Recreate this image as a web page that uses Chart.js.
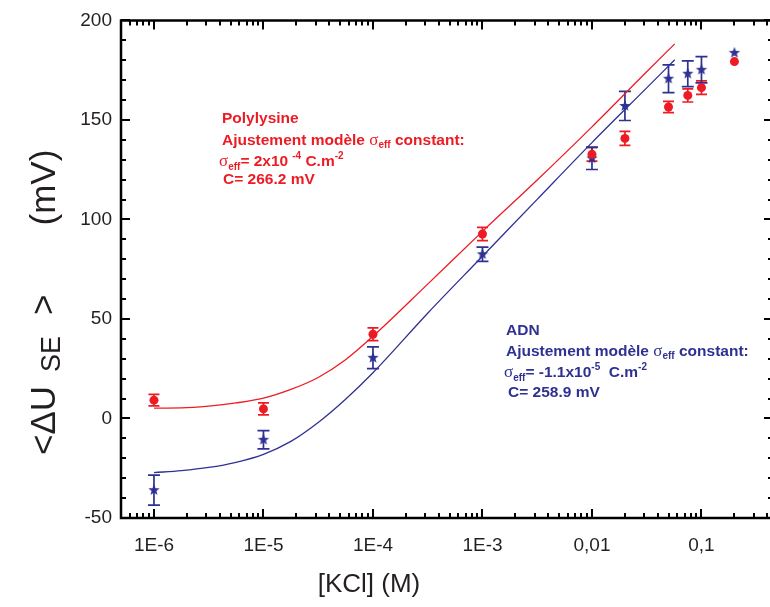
<!DOCTYPE html>
<html><head><meta charset="utf-8">
<script src="https://cdn.jsdelivr.net/npm/chart.js@4/dist/chart.umd.min.js"></script>
<style>html,body{margin:0;padding:0;overflow:hidden;background:#fff;width:770px;height:607px}canvas{display:block}</style>
</head><body>
<canvas id="c" width="780" height="607"></canvas>
<script>
// ---------- data ----------
const concentrations = [1e-6, 1e-5, 1e-4, 1e-3, 0.01, 0.02, 0.05, 0.075, 0.1, 0.2];
const polylysine     = [9.2, 4.8, 42.3, 92.7, 132.7, 140.7, 156.5, 162.3, 166.2, 179.3];
const polylysineErr  = [2.9, 3.0, 3.2, 3.3, 3.4, 3.5, 2.8, 3.3, 3.4, 0];
const adn            = [-36, -10.7, 30.5, 82.5, 130.7, 157, 170.7, 173.2, 175.2, 183.7];
const adnErr         = [7.5, 4.6, 5.5, 3.6, 5.6, 7.3, 7.0, 6.5, 6.6, 0];

const fitConc        = [1e-6, 1.78e-6, 3.16e-6, 5.62e-6, 1e-5, 1.78e-5, 3.16e-5, 5.62e-5, 1e-4, 3.16e-4, 1e-3, 3.16e-3, 1e-2, 3.16e-2, 0.057];
const polylysineFit  = [5.2, 5.3, 6.2, 7.8, 10.2, 14.6, 20.6, 29.5, 41.3, 67.5, 94, 119.8, 146.5, 174.2, 188.2];
const adnFit         = [-27.2, -26.2, -24.6, -22.0, -18.0, -11.5, -2.0, 9.7, 23, 52.9, 81.5, 110.1, 138.6, 166.1, 180.2];

const xTickValues = [1e-6, 1e-5, 1e-4, 1e-3, 0.01, 0.1];
const xTickLabels = ['1E-6', '1E-5', '1E-4', '1E-3', '0,01', '0,1'];
const yTickValues = [-50, 0, 50, 100, 150, 200];
const yTickLabels = ['-50', '0', '50', '100', '150', '200'];

// ---------- styles ----------
const RED = '#ED1C24', BLUE = '#2E3192', INK = '#231F20';
const SANS = '"Liberation Sans", Arial, sans-serif';
const SERIF = '"Liberation Serif", "Times New Roman", serif';

function makeStar(color, R, r) {
  const s = Math.ceil(2 * R) + 2;
  const c = document.createElement('canvas'); c.width = s; c.height = s;
  const g = c.getContext('2d'); g.fillStyle = color; g.beginPath();
  for (let i = 0; i < 10; i++) {
    const rad = i % 2 ? r : R, ang = -Math.PI / 2 + i * Math.PI / 5;
    g.lineTo(s / 2 + rad * Math.cos(ang), s / 2 + rad * Math.sin(ang));
  }
  g.closePath(); g.fill(); return c;
}
const starImg = makeStar(BLUE, 6, 2.5);

function drawRuns(ctx, x, y, runs, color) {
  ctx.fillStyle = color; ctx.textBaseline = 'alphabetic'; ctx.textAlign = 'left';
  let cx = x;
  for (const r of runs) {
    ctx.font = r.f;
    cx += (r.dx || 0);
    ctx.fillText(r.t, cx, y + (r.dy || 0));
    cx += ctx.measureText(r.t).width;
  }
}

const errorBars = {
  id: 'errorBars',
  beforeDatasetsDraw(chart) {
    const { ctx } = chart, xs = chart.scales.x, ys = chart.scales.y;
    chart.data.datasets.forEach((ds) => {
      if (!ds.errors) return;
      ctx.save(); ctx.strokeStyle = ds.borderColor; ctx.lineWidth = 1.7;
      ds.data.forEach((p, i) => {
        const e = ds.errors[i]; if (!e) return;
        const px = xs.getPixelForValue(p.x);
        const y1 = ys.getPixelForValue(p.y + e), y2 = ys.getPixelForValue(p.y - e);
        const w = ds.capHalf;
        ctx.beginPath();
        ctx.moveTo(px, y1); ctx.lineTo(px, y2);
        ctx.moveTo(px - w, y1); ctx.lineTo(px + w, y1);
        ctx.moveTo(px - w, y2); ctx.lineTo(px + w, y2);
        ctx.stroke();
      });
      ctx.restore();
    });
  }
};

const frame = {
  id: 'frame',
  afterDatasetsDraw(chart) {
    const { ctx, chartArea: a } = chart, xs = chart.scales.x, ys = chart.scales.y;
    ctx.save();
    ctx.strokeStyle = '#000'; ctx.lineWidth = 2.5; ctx.lineCap = 'square';
    ctx.beginPath();
    ctx.moveTo(a.left, a.top); ctx.lineTo(a.left, a.bottom); ctx.lineTo(a.right, a.bottom);
    ctx.moveTo(a.left, a.top); ctx.lineTo(a.right, a.top); ctx.lineTo(a.right, a.bottom);
    ctx.stroke();
    ctx.lineWidth = 2; ctx.lineCap = 'butt';
    ctx.beginPath();
    for (let d = -7; d <= 0; d++) {
      for (let m = 1; m <= 9; m++) {
        const v = m * Math.pow(10, d);
        if (v < xs.min * 0.999 || v > xs.max * 1.001) continue;
        const px = Math.round(xs.getPixelForValue(v));
        const len = m === 1 ? 9 : 5;
        ctx.moveTo(px, a.bottom); ctx.lineTo(px, a.bottom - len);
        ctx.moveTo(px, a.top); ctx.lineTo(px, a.top + len);
      }
    }
    for (let v = -50; v <= 200; v += 10) {
      const py = Math.round(ys.getPixelForValue(v));
      const len = v % 50 === 0 ? 9 : 5;
      ctx.moveTo(a.left, py); ctx.lineTo(a.left + len, py);
      ctx.moveTo(a.right, py); ctx.lineTo(a.right - len, py);
    }
    ctx.stroke();
    ctx.restore();
  }
};

const texts = {
  id: 'texts',
  afterDraw(chart) {
    const ctx = chart.ctx;
    ctx.save();
    // axis titles
    ctx.fillStyle = INK; ctx.font = '26px ' + SANS; ctx.textAlign = 'center'; ctx.textBaseline = 'alphabetic';
    ctx.fillText('[KCl] (M)', 369, 592);
    ctx.save();
    ctx.translate(55, 455); ctx.rotate(-Math.PI / 2);
    drawRuns(ctx, 0, 0, [
      { t: '<ΔU', f: '35px ' + SANS },
      { t: 'SE', f: '27px ' + SANS, dx: 14, dy: 5 },
      { t: '>', f: '35px ' + SANS, dx: 21 },
      { t: '(mV)', f: '35px ' + SANS, dx: 69 }
    ], INK);
    ctx.restore();
    // annotations
    const b = 'bold 15.5px ' + SANS, sg = '17px ' + SERIF, sb = 'bold 10px ' + SANS;
    drawRuns(ctx, 222, 123, [{ t: 'Polylysine', f: b }], RED);
    drawRuns(ctx, 222, 145, [{ t: 'Ajustement modèle ', f: b }, { t: 'σ', f: sg }, { t: 'eff', f: sb, dy: 3 }, { t: ' constant:', f: b }], RED);
    drawRuns(ctx, 219, 166, [{ t: 'σ', f: sg }, { t: 'eff', f: sb, dy: 4 }, { t: '= 2x10', f: b }, { t: '-4', f: sb, dy: -7, dx: 4 }, { t: ' C.m', f: b }, { t: '-2', f: sb, dy: -7 }], RED);
    drawRuns(ctx, 223, 184, [{ t: 'C= 266.2 mV', f: b }], RED);

    drawRuns(ctx, 506, 335, [{ t: 'ADN', f: b }], BLUE);
    drawRuns(ctx, 506, 356, [{ t: 'Ajustement modèle ', f: b }, { t: 'σ', f: sg }, { t: 'eff', f: sb, dy: 3 }, { t: ' constant:', f: b }], BLUE);
    drawRuns(ctx, 504, 377, [{ t: 'σ', f: sg }, { t: 'eff', f: sb, dy: 4 }, { t: '= -1.1x10', f: b }, { t: '-5', f: sb, dy: -7 }, { t: '  C.m', f: b }, { t: '-2', f: sb, dy: -7 }], BLUE);
    drawRuns(ctx, 508, 397, [{ t: 'C= 258.9 mV', f: b }], BLUE);
    ctx.restore();
  }
};

const toXY = (xs, ys) => xs.map((x, i) => ({ x: x, y: ys[i] }));

new Chart(document.getElementById('c'), {
  type: 'scatter',
  data: {
    datasets: [
      { label: 'Polylysine', data: toXY(concentrations, polylysine), errors: polylysineErr, capHalf: 5.5,
        pointStyle: 'circle', pointRadius: 4.5, backgroundColor: RED, borderColor: RED, borderWidth: 0, showLine: false },
      { label: 'ADN', data: toXY(concentrations, adn), errors: adnErr, capHalf: 6,
        pointStyle: starImg, pointRadius: 6, backgroundColor: BLUE, borderColor: BLUE, showLine: false },
      { label: 'Polylysine fit', data: toXY(fitConc, polylysineFit), showLine: true, pointRadius: 0,
        borderColor: RED, borderWidth: 1.3, cubicInterpolationMode: 'monotone' },
      { label: 'ADN fit', data: toXY(fitConc, adnFit), showLine: true, pointRadius: 0,
        borderColor: BLUE, borderWidth: 1.3, cubicInterpolationMode: 'monotone' }
    ]
  },
  options: {
    responsive: false, animation: false, events: [],
    layout: { padding: { top: 18, right: 6, left: 0, bottom: 0 } },
    plugins: { legend: { display: false }, tooltip: { enabled: false } },
    scales: {
      x: {
        type: 'logarithmic', min: 5e-7, max: 0.45,
        grid: { display: false, drawTicks: false }, border: { display: false },
        afterBuildTicks(s) { s.ticks = xTickValues.map(v => ({ value: v })); },
        afterFit(s) { s.height = 89; },
        ticks: { callback: (v, i) => xTickLabels[i], autoSkip: false, maxRotation: 0, padding: 16,
                 color: INK, font: { family: SANS, size: 19 } }
      },
      y: {
        type: 'linear', min: -50, max: 200,
        grid: { display: false, drawTicks: false }, border: { display: false },
        afterBuildTicks(s) { s.ticks = yTickValues.map(v => ({ value: v })); },
        afterFit(s) { s.width = 121; },
        ticks: { callback: (v, i) => yTickLabels[i], padding: 9, color: INK, font: { family: SANS, size: 19 } }
      }
    }
  },
  plugins: [errorBars, frame, texts]
});
</script>
</body></html>
